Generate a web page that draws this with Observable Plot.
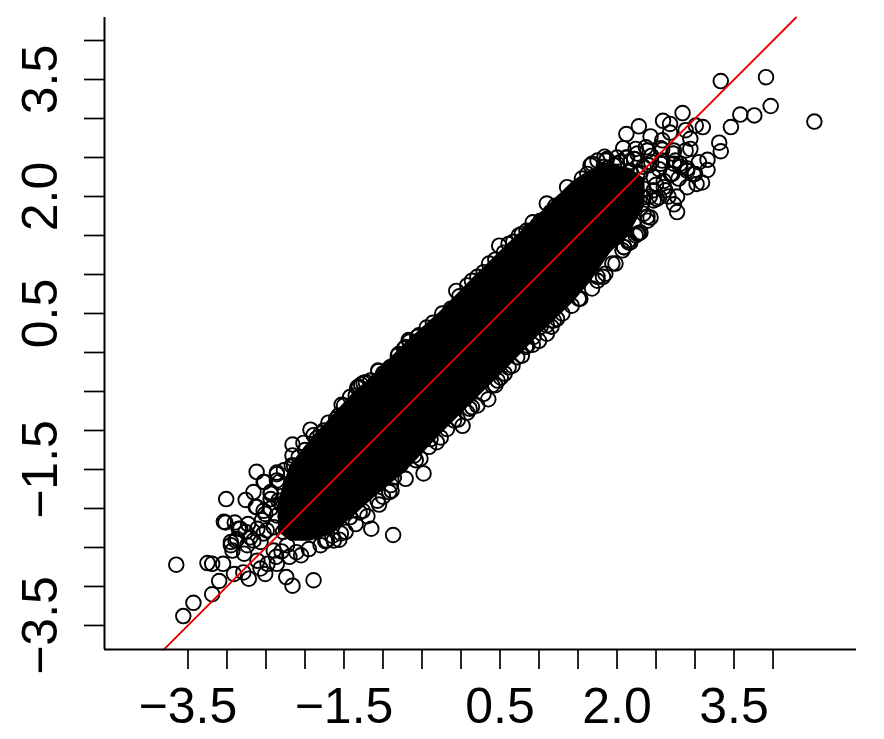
<!DOCTYPE html>
<html><head><meta charset="utf-8">
<style>html,body{margin:0;padding:0;background:#fff}svg{display:block}</style>
<script src="https://cdn.jsdelivr.net/npm/d3@7"></script>
<script src="https://cdn.jsdelivr.net/npm/@observablehq/plot@0.6"></script>
</head><body><div id="chart"></div>
<script>
const tickValues = [-3.5,-3,-2.5,-2,-1.5,-1,-0.5,0,0.5,1,1.5,2,2.5,3,3.5,4];
const yTickValues = [-3.5,-3,-2.5,-2,-1.5,-1,-0.5,0,0.5,1,1.5,2,2.5,3,3.5,4];
const labelValues = [-3.5,-1.5,0.5,2,3.5];
const labelTexts = ["−3.5","−1.5","0.5","2.0","3.5"];
const refLine = [-3.81,4.295];

// dense core of the cloud, read as an outline
const bandX = [-2.34,-2.19,-1.93,-1.67,-1.42,-1.12,-0.69,-0.26,0.16,0.60,1.02,1.44,1.66,1.92,2.17,2.36];
const bandTop = [-1.90,-1.45,-1.12,-0.84,-0.56,-0.29,0.14,0.53,0.96,1.39,1.79,2.20,2.34,2.42,2.36,2.22];
const bandBottom = [-2.30,-2.42,-2.42,-2.34,-2.14,-1.87,-1.51,-1.05,-0.63,-0.20,0.24,0.64,0.90,1.28,1.54,1.88];

const lowerX = [-3.65,-3.56,-3.43,-3.25,-3.19,-3.10,-3.19,-3.01,-3.04,-2.62,-2.36,-2.52,-2.66,-2.76,-2.62,-2.90,-2.73,-2.85,-2.95,-2.89,-2.76,-2.93,-2.78,-3.05,-2.91,-2.79,-2.72,-2.51,-2.57,-2.37,-2.36,-2.24,-2.16,-1.89,-1.15,-0.87,-1.93,-2.16,-2.16,-2.02,-2.14,-1.80,-1.57,-1.56,-1.74,-1.65,-2.11,-2.23,-1.42,-1.26,-1.07,-0.92,-2.51,-2.44,-2.33,-2.66,-2.53,-2.40,-2.48,-2.61,-0.48,-0.58,-0.71,-1.53,-1.28,-1.06,-0.66];
const lowerY = [-2.72,-3.38,-3.21,-2.70,-2.71,-2.93,-3.10,-1.88,-2.17,-1.53,-1.56,-1.66,-1.79,-1.89,-1.98,-2.18,-2.20,-2.26,-2.47,-2.41,-2.30,-2.54,-2.58,-2.71,-2.84,-2.82,-2.90,-2.84,-2.77,-2.62,-2.71,-2.88,-2.99,-2.92,-2.26,-2.34,-0.99,-1.18,-1.32,-1.16,-1.45,-1.04,-0.81,-2.40,-2.42,-2.35,-2.56,-2.47,-2.11,-2.03,-1.90,-1.79,-2.07,-1.81,-1.66,-2.41,-2.32,-2.54,-2.71,-2.67,-1.55,-1.38,-1.62,-0.67,-0.41,-0.23,0.14];

const edgeX = [0.74,0.49,0.36,0.44,0.61,-0.06,0.08,0.21,-0.24,-0.13,-0.44,-0.67,-0.56,-0.81,-0.71,-1.06,-0.91,-1.22,-1.31,-1.16,-1.42,-1.50,0.98,1.10,1.10,1.42,1.68,0.72,0.85,0.51,0.35,0.14,0.02,-0.18,-0.31,-0.52,1.23,1.53,1.75,0.40,0.61];
const edgeY = [1.50,1.37,1.14,1.19,1.39,0.79,0.86,0.97,0.50,0.56,0.32,0.16,0.20,-0.04,0.07,-0.24,-0.19,-0.38,-0.44,-0.36,-0.57,-0.68,1.63,0.24,0.35,0.60,0.82,-0.06,0.09,-0.32,-0.60,-0.70,-0.94,-0.98,-1.15,-1.36,0.43,0.69,0.97,-0.42,-0.19];

const upperX = [3.33,3.91,3.97,4.53,3.76,3.58,3.46,3.31,3.33,2.84,2.59,2.68,2.28,2.12,2.43,2.68,2.88,3.01,3.10,2.94,2.08,2.24,2.37,2.58,2.58,2.94,3.16,3.16,3.05,3.09,3.02,2.90,2.77,2.73,2.77,2.54,2.28,2.39,2.15,1.94,1.82,1.84,1.86,1.68,1.87,2.00,2.22,2.39,2.73,2.81,2.69,2.79,2.98,2.90,2.60,2.47,2.58,2.73,2.41,2.09,2.26,2.22,2.34,2.47,2.43,2.09,1.75];
const upperY = [3.48,3.53,3.16,2.96,3.04,3.05,2.89,2.69,2.58,3.07,2.97,2.93,2.90,2.80,2.77,2.82,2.85,2.91,2.89,2.74,2.62,2.61,2.63,2.72,2.60,2.61,2.47,2.34,2.44,2.18,2.16,2.12,2.00,1.90,1.80,1.99,1.53,1.69,1.41,1.14,0.97,2.51,2.46,2.42,2.36,2.42,2.48,2.59,2.59,2.42,2.29,2.23,2.29,2.33,2.12,2.25,2.46,2.42,2.40,2.23,2.29,1.99,1.99,1.95,1.73,1.35,0.92];

// further points read from close-ups
const lowerCluster = [[-2.36,-1.54],[-2.17,-1.45],[-2.53,-1.66],[-2.63,-1.98],[-3.02,-2.18],[-2.83,-2.26],[-2.53,-2.03],[-2.44,-1.88],[-2.44,-1.79],[-2.36,-1.64],[-2.34,-1.90],[-2.55,-2.15],[-2.44,-2.00],[-2.36,-2.09],[-2.61,-2.26],[-2.49,-2.28],[-2.70,-2.37],[-2.87,-2.39],[-2.95,-2.43],[-2.74,-2.47],[-2.57,-2.43],[-2.40,-2.24],[-2.27,-1.51],[-1.89,-1.06],[-2.08,-1.34],[-1.76,-1.00],[-1.63,-2.41],[-1.54,-2.32],[-1.72,-2.41],[-1.80,-2.47],[-2.30,-2.55],[-2.20,-2.62],[-2.05,-2.60],[-1.95,-2.52],[-2.28,-2.30],[-2.25,-2.10],[-2.30,-1.95]];
const upperEdgeExtra = [[-1.25,-0.39],[-1.33,-0.45],[-1.35,-0.55],[-0.80,-0.02],[-0.73,0.05],[-0.54,0.22],[-1.00,-0.27],[-0.36,0.38],[-0.02,0.72],[0.14,0.92],[0.29,1.03],[0.55,1.28],[0.67,1.42],[0.84,1.56],[0.92,1.67],[1.02,1.69],[0.78,1.52],[0.89,1.56],[1.10,1.91],[1.21,1.88],[1.30,1.93],[1.15,1.80],[1.36,2.12],[1.45,2.06],[1.55,2.23],[1.62,2.29],[1.66,2.40],[1.75,2.46],[1.83,2.38],[1.87,2.48],[1.96,2.40],[2.00,2.50],[2.13,2.50],[2.26,2.55],[-1.70,-0.90],[-1.85,-1.10],[-1.60,-0.85],[-2.00,-1.25]];
const lowerEdgeExtra = [[-0.60,-1.32],[-0.39,-1.11],[-0.78,-1.45],[-0.86,-1.60],[-0.89,-1.77],[-0.90,-1.70],[-0.09,-0.87],[0.11,-0.72],[0.21,-0.68],[0.29,-0.53],[0.44,-0.42],[0.47,-0.36],[0.56,-0.27],[0.66,-0.17],[0.78,-0.04],[0.92,0.10],[1.00,0.15],[1.16,0.33],[-0.04,-0.86],[0.08,-0.77],[-0.41,-1.21],[-0.26,-1.09],[1.19,0.41],[1.30,0.50],[1.51,0.69],[0.83,0.07],[1.02,0.33],[0.93,0.20],[2.26,1.52],[2.17,1.41],[2.07,1.31],[1.85,1.01],[1.98,1.14],[2.30,1.54],[2.15,1.44],[2.24,1.50],[2.09,1.35],[2.39,1.74],[-1.05,-1.95],[-1.20,-2.10],[-1.35,-2.20],[-1.00,-1.85],[-1.48,-2.30],[-1.30,-2.05]];
const upperCluster = [[2.44,2.44],[2.04,2.44],[2.22,2.48],[2.56,2.42],[2.75,2.46],[2.88,2.59],[2.81,2.38],[2.71,2.29],[3.00,2.29],[2.90,2.36],[2.60,2.20],[2.17,2.33],[2.00,2.29],[2.22,2.18],[2.34,2.10],[2.47,2.08],[2.62,2.08],[2.51,1.97],[2.17,1.99],[2.32,1.91],[2.04,2.12],[1.92,2.21],[2.34,1.78],[2.22,1.69],[2.09,1.82],[2.50,2.15],[2.66,2.00],[2.54,2.35],[2.34,2.38],[2.56,2.62],[2.72,2.55],[2.44,2.52],[2.30,2.30],[2.12,2.50],[2.42,2.00]];

const toPoints = (xs, ys) => xs.map((x, i) => ({x, y: ys[i]}));
const fromPairs = (pairs) => pairs.map(([x, y]) => ({x, y}));
const points = [...toPoints(lowerX, lowerY), ...toPoints(edgeX, edgeY), ...toPoints(upperX, upperY),
  ...fromPairs(lowerCluster), ...fromPairs(upperEdgeExtra), ...fromPairs(lowerEdgeExtra), ...fromPairs(upperCluster)];
const band = bandX.map((x, i) => ({x, top: bandTop[i], bottom: bandBottom[i]}));
const xMin = -4.57, xMax = 5.07, yMin = -3.808, yMax = 4.295;
const font = "'Liberation Sans', Arial, Helvetica, sans-serif";

const chart = Plot.plot({
  width: 884, height: 739,
  marginLeft: 104, marginRight: 28, marginTop: 17, marginBottom: 90,
  style: {background: "#fff", fontFamily: font},
  x: {domain: [xMin, xMax]},
  y: {domain: [yMin, yMax]},
  marks: [
    Plot.areaY(band, {x: "x", y1: "bottom", y2: "top", fill: "#000", curve: "linear"}),
    Plot.dot(points, {x: "x", y: "y", r: 7.3, stroke: "#000", strokeWidth: 1.9, fill: "none"}),
    Plot.line(refLine.map(v => ({x: v, y: v})), {x: "x", y: "y", stroke: "#e60000", strokeWidth: 1.9}),
    Plot.axisX({ticks: tickValues, tickSize: 20, tickFormat: () => "", label: null, strokeWidth: 1.7, strokeOpacity: 1}),
    Plot.axisY({ticks: yTickValues, tickSize: 20, tickFormat: () => "", label: null, strokeWidth: 1.7, strokeOpacity: 1}),
    Plot.ruleY([yMin], {stroke: "#000", strokeWidth: 2}),
    Plot.ruleX([xMin], {stroke: "#000", strokeWidth: 2}),
    Plot.text(labelValues, {x: d => d, y: yMin, dy: 73, text: (d, i) => labelTexts[i], fontSize: 50, lineAnchor: "bottom", fill: "#000"}),
    Plot.text(labelValues, {x: xMin, y: d => d, dx: -48, text: (d, i) => labelTexts[i], fontSize: 50, rotate: -90, lineAnchor: "bottom", fill: "#000"})
  ]
});
document.getElementById("chart").append(chart);
</script></body></html>
